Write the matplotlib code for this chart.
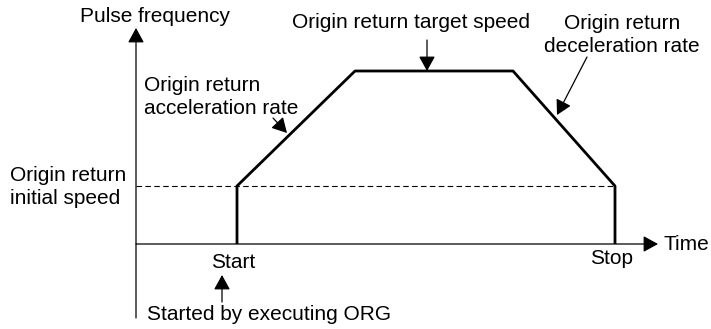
import matplotlib
matplotlib.use("Agg")
import matplotlib.pyplot as plt

# perfil de velocidade do retorno a origem (tempo, frequencia de pulsos)
t_perfil = [101, 101, 219, 377, 479, 479]
f_perfil = [0, 58, 173, 173, 58, 0]
f_inicial = 58
t_parada = 479

plt.rcParams['font.family'] = ['Liberation Sans', 'DejaVu Sans']

fig = plt.figure(figsize=(7.11, 3.29), dpi=100)
ax = fig.add_axes([0, 0, 1, 1])
ax.set_xlim(-136, 575)
ax.set_ylim(-85, 244)
ax.axis("off")

FS = 15
seta = dict(arrowstyle="-|>,head_length=0.6,head_width=0.33", color="black",
            lw=0.9, shrinkA=0, shrinkB=0, mutation_scale=15)

# eixos
ax.annotate("", xy=(0, 216), xytext=(0, -74), arrowprops=seta)
ax.annotate("", xy=(522, 0), xytext=(0, 0), arrowprops=seta)

# velocidade inicial (tracejado)
ax.plot([0, t_parada], [f_inicial, f_inicial], color="black", lw=0.8,
        linestyle=(0, (5, 3)))

# perfil
ax.plot(t_perfil, f_perfil, color="black", lw=2.0, solid_joinstyle="round",
        solid_capstyle="butt")

# textos
ax.text(19, 228, "Pulse frequency", fontsize=FS, ha="center", va="center")
ax.text(275, 222, "Origin return target speed", fontsize=FS, ha="center", va="center")
ax.annotate("", xy=(291, 173), xytext=(291, 204), arrowprops=seta)

ax.text(486, 209, "Origin return\ndeceleration rate", fontsize=FS, ha="center",
        va="center", linespacing=1.25)
ax.annotate("", xy=(421, 129), xytext=(451, 187), arrowprops=seta)

ax.text(8, 147, "Origin return\nacceleration rate", fontsize=FS, ha="left",
        va="center", linespacing=1.25)
ax.annotate("", xy=(151, 111), xytext=(137, 126), arrowprops=seta)

ax.text(-126, 57, "Origin return\ninitial speed", fontsize=FS, ha="left",
        va="center", linespacing=1.25)

ax.text(97, -18, "Start", fontsize=FS, ha="center", va="center")
ax.annotate("", xy=(86, -31), xytext=(86, -58), arrowprops=seta)
ax.text(11, -70, "Started by executing ORG", fontsize=FS, ha="left", va="center")

ax.text(476, -14, "Stop", fontsize=FS, ha="center", va="center")
ax.text(527, 0, "Time", fontsize=FS, ha="left", va="center")

fig.savefig("out.png", dpi=100)
